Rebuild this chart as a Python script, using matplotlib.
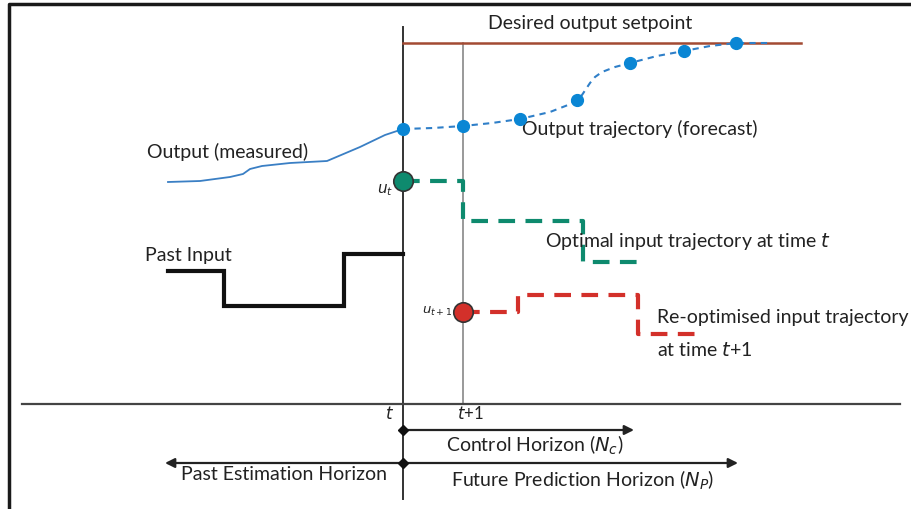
import numpy as np
import matplotlib.pyplot as plt

plt.rcParams['font.family'] = ['Lato', 'DejaVu Sans']

# pixel-like diagram coordinates (x to the right, y downward)
t_x, t1_x = 403, 463
axis_y = 405
setpoint_y = 44
setpoint_x = [403, 801]

meas_x = [168, 200, 230, 243, 250, 262, 290, 327, 360, 385, 403]
meas_y = [183, 182, 178, 175, 170, 167, 164, 162, 148, 136, 130]

fc_x = [403, 463, 520, 577, 630, 684, 736]
fc_y = [130, 127, 120, 101, 64, 52, 44]
fc_line_x = [403, 433, 463, 492, 520, 550, 568, 577, 582, 586, 590, 595, 602, 615, 630, 657, 684, 710, 736, 770]
fc_line_y = [130, 129, 127, 124, 120, 113, 106, 101, 96, 90, 84, 78, 73, 68, 64, 57, 52, 47, 44, 44]

past_x = [168, 224, 224, 344, 344, 403]
past_y = [272, 272, 307, 307, 255, 255]

opt_x = [403, 463, 463, 583, 583, 640]
opt_y = [182, 182, 222, 222, 263, 263]

reopt_x = [463, 518, 518, 638, 638, 695]
reopt_y = [313, 313, 296, 296, 335, 335]

FS = 14
TXT = '#222222'

fig = plt.figure(figsize=(9.12, 5.10), dpi=100)
ax = fig.add_axes([0, 0, 1, 1])
ax.set_xlim(0, 912)
ax.set_ylim(510, 0)
ax.axis('off')

# frame (top and left only)
ax.plot([9, 9, 911], [511, 5, 5], color='#1a1a1a', lw=2.5, solid_capstyle='butt')

# time lines and axis
ax.plot([t_x, t_x], [28, 500], color='#333333', lw=1.4)
ax.plot([t1_x, t1_x], [setpoint_y, axis_y], color='#888888', lw=1.2)
ax.plot([22, 900], [axis_y, axis_y], color='#444444', lw=1.6)

# setpoint
ax.plot(setpoint_x, [setpoint_y, setpoint_y], color='#a34a33', lw=1.8)
ax.text(590, 24, 'Desired output setpoint', fontsize=FS, ha='center', va='center', color=TXT)

# measured output and forecast
ax.plot(meas_x, meas_y, color='#3a7fc4', lw=1.3)
ax.plot(fc_line_x, fc_line_y, color='#2f7fc8', lw=1.5, ls=(0, (3, 2.5)))
ax.plot(fc_x, fc_y, 'o', color='#0a86d4', ms=8.5, zorder=5)
ax.text(147, 152, 'Output (measured)', fontsize=FS, va='center', color=TXT)
ax.text(522, 129, 'Output trajectory (forecast)', fontsize=FS, va='center', color=TXT)

# past input
ax.plot(past_x, past_y, color='#111111', lw=3, solid_joinstyle='miter')
ax.text(145, 256, 'Past Input', fontsize=FS, va='center', color=TXT)

# optimal input at t
ax.plot(opt_x, opt_y, color='#0e8a6e', lw=3, ls=(0, (4, 2.5)))
ax.plot([t_x], [opt_y[0]], 'o', color='#0e8a6e', mec='#333333', mew=1.2, ms=14, zorder=6)
ax.text(385, 190, r'$u_t$', fontsize=11, ha='center', va='center', color=TXT)
ax.text(545, 242, r'Optimal input trajectory at time $t$', fontsize=FS, va='center', color=TXT)

# re-optimised input at t+1
ax.plot(reopt_x, reopt_y, color='#d3302a', lw=3, ls=(0, (4, 2.5)))
ax.plot([t1_x], [reopt_y[0]], 'o', color='#d3302a', mec='#333333', mew=1.2, ms=14, zorder=6)
ax.text(437, 311, r'$u_{t+1}$', fontsize=9.5, ha='center', va='center', color=TXT)
ax.text(657, 318, 'Re-optimised input trajectory', fontsize=FS, va='center', color=TXT)
ax.text(657, 350, r'at time $t$+1', fontsize=FS, va='center', color=TXT)

# axis labels
ax.text(390, 414, r'$t$', fontsize=12, ha='center', va='center', color=TXT)
ax.text(470, 414, r'$t$+1', fontsize=12, ha='center', va='center', color=TXT)

# horizons
arrow = dict(arrowstyle='-|>', color='#222222', lw=1.6, mutation_scale=14, shrinkA=0, shrinkB=0)
ax.annotate('', xy=(634, 431), xytext=(t_x, 431), arrowprops=arrow)
ax.annotate('', xy=(165, 464), xytext=(t_x, 464), arrowprops=arrow)
ax.annotate('', xy=(738, 464), xytext=(t_x, 464), arrowprops=arrow)
ax.plot([t_x, t_x], [431, 464], 'D', color='#111111', ms=5, zorder=6)
ax.text(535, 445, r'Control Horizon ($N_c$)', fontsize=FS, ha='center', va='center', color=TXT)
ax.text(284, 475, 'Past Estimation Horizon', fontsize=FS, ha='center', va='center', color=TXT)
ax.text(583, 480, r'Future Prediction Horizon ($N_P$)', fontsize=FS, ha='center', va='center', color=TXT)

fig.savefig('out.png', dpi=100)
